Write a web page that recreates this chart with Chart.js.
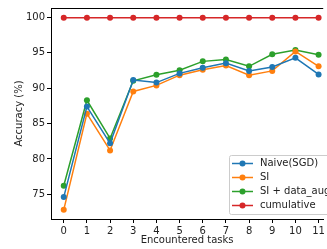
<!DOCTYPE html>
<html>
<head>
<meta charset="utf-8">
<script src="https://cdn.jsdelivr.net/npm/chart.js@4/dist/chart.umd.min.js"></script>
<style>
  html, body { margin: 0; padding: 0; background: #fff; overflow: hidden; }
  #wrap { width: 327px; height: 249px; }
</style>
</head>
<body>
<div id="wrap"><canvas id="accChart" width="327" height="249"></canvas></div>
<script>
const tasks = [0, 1, 2, 3, 4, 5, 6, 7, 8, 9, 10, 11];
const yTicks = [75, 80, 85, 90, 95, 100];

const naiveSGD   = [74.6, 87.4, 82.2, 91.15, 90.8, 92.1, 92.9, 93.55, 92.45, 93.0, 94.3, 91.95];
const si         = [72.8, 86.4, 81.2, 89.55, 90.4, 91.85, 92.6, 93.2, 91.85, 92.45, 95.2, 93.1];
const siDataAug  = [76.2, 88.3, 82.9, 91.05, 91.9, 92.55, 93.8, 94.05, 93.1, 94.8, 95.4, 94.75];
const cumulative = [99.97, 99.97, 99.97, 99.97, 99.97, 99.97, 99.97, 99.97, 99.97, 99.97, 99.97, 99.97];

const FONT = 'DejaVu Sans';

function series(label, values, color) {
  return {
    label: label,
    data: tasks.map((t, i) => ({ x: t, y: values[i] })),
    borderColor: color,
    backgroundColor: color,
    borderWidth: 1.5,
    pointRadius: 3,
    pointHoverRadius: 3,
    pointBorderWidth: 0,
    tension: 0
  };
}

// 凡例と上枠線
const extras = {
  id: 'extras',
  afterDraw(chart) {
    const ctx = chart.ctx;
    const a = chart.chartArea;
    ctx.save();
    ctx.strokeStyle = '#000';
    ctx.lineWidth = 1;
    ctx.beginPath();
    ctx.moveTo(a.left, a.top + 0.5);
    ctx.lineTo(a.right, a.top + 0.5);
    ctx.stroke();

    // legend box
    const bx = 229.5, by = 155.5, bw = 110, bh = 59;
    ctx.fillStyle = 'rgba(255,255,255,0.8)';
    ctx.strokeStyle = '#cccccc';
    ctx.beginPath();
    ctx.roundRect ? ctx.roundRect(bx, by, bw, bh, 2) : ctx.rect(bx, by, bw, bh);
    ctx.fill();
    ctx.stroke();

    ctx.font = '10px "' + FONT + '"';
    ctx.textBaseline = 'middle';
    chart.data.datasets.forEach((ds, i) => {
      const y = 163.5 + i * 14;
      ctx.strokeStyle = ds.borderColor;
      ctx.lineWidth = 1.5;
      ctx.beginPath();
      ctx.moveTo(232, y);
      ctx.lineTo(253, y);
      ctx.stroke();
      ctx.fillStyle = ds.borderColor;
      ctx.beginPath();
      ctx.arc(242.5, y, 3, 0, Math.PI * 2);
      ctx.fill();
      ctx.fillStyle = '#222';
      ctx.fillText(ds.label, 260, y);
    });
    ctx.restore();
  }
};

new Chart(document.getElementById('accChart').getContext('2d'), {
  type: 'line',
  data: {
    datasets: [
      series('Naive(SGD)', naiveSGD, '#1f77b4'),
      series('SI', si, '#ff7f0e'),
      series('SI + data_aug', siDataAug, '#2ca02c'),
      series('cumulative', cumulative, '#d62728')
    ]
  },
  options: {
    responsive: false,
    animation: false,
    layout: { padding: { top: 7, right: 0, left: 0, bottom: 0 } },
    plugins: {
      legend: { display: false },
      tooltip: { enabled: false }
    },
    scales: {
      x: {
        type: 'linear',
        min: -0.55,
        max: 11.2,
        afterBuildTicks: s => { s.ticks = tasks.map(v => ({ value: v })); },
        afterFit: s => { s.height = 30; },
        grid: { drawOnChartArea: false, drawTicks: true, tickLength: 4, color: '#000' },
        border: { display: true, color: '#000', width: 1 },
        ticks: { color: '#222', font: { family: FONT, size: 10 }, padding: 2, maxRotation: 0, autoSkip: false },
        title: { display: true, text: 'Encountered tasks', color: '#222', font: { family: FONT, size: 10 }, padding: { top: 0, bottom: 3 } }
      },
      y: {
        min: 71.5,
        max: 101.35,
        afterBuildTicks: s => { s.ticks = yTicks.map(v => ({ value: v })); },
        afterFit: s => { s.width = 51; },
        grid: { drawOnChartArea: false, drawTicks: true, tickLength: 4, color: '#000' },
        border: { display: true, color: '#000', width: 1 },
        ticks: { color: '#222', font: { family: FONT, size: 10 }, padding: 2 },
        title: { display: true, text: 'Accuracy (%)', color: '#222', font: { family: FONT, size: 10 }, padding: { top: 13, bottom: 0 } }
      }
    }
  },
  plugins: [extras]
});
</script>
</body>
</html>
